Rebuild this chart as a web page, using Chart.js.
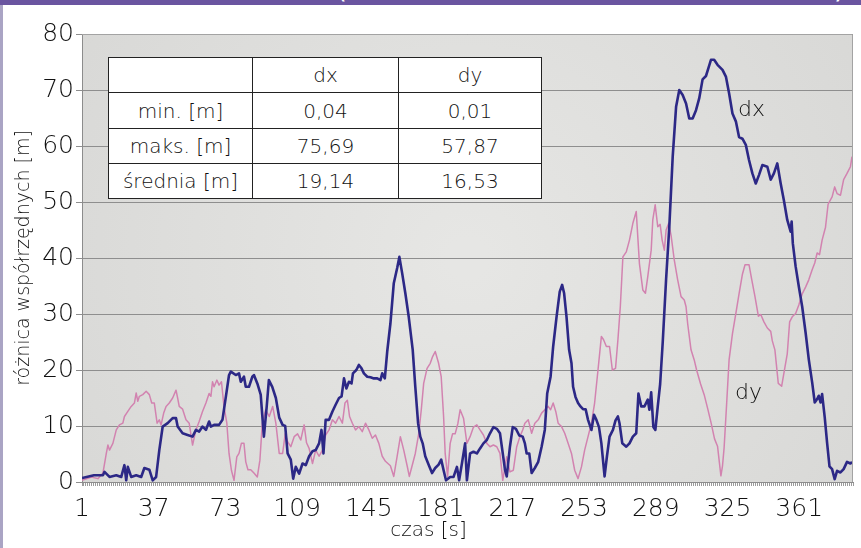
<!DOCTYPE html>
<html>
<head>
<meta charset="utf-8">
<script src="https://cdn.jsdelivr.net/npm/chart.js"></script>
<style>
  html, body { margin: 0; padding: 0; background: #fff; }
  #wrap { position: relative; width: 861px; height: 548px; overflow: hidden;
          font-family: 'DejaVu Sans', sans-serif; font-weight: 200; color: #111; }
  canvas { position: absolute; left: 0; top: 0; }
  #band { position: absolute; left: 0; top: 0; width: 861px; height: 5px; background: #6a55a0;
          overflow: hidden; color: #fff; }
  #band span { position: absolute; top: -25px; font-size: 28px; line-height: 28px; font-weight: 400; }
  #edge { position: absolute; left: 0; top: 5px; width: 3px; height: 543px; background: #aaa4c4; }
  table.stats { position: absolute; left: 108px; top: 57px; border-collapse: collapse; background: #fff;
                font-size: 20px; }
  table.stats td { border: 1px solid #222; padding: 0; text-align: center; line-height: 20px; }
  .tag { position: absolute; font-size: 22px; line-height: 22px; }
</style>
</head>
<body>
<div id="wrap">
  <canvas id="chart" width="861" height="548"></canvas>
  <div id="band"><span style="left:336px">(</span><span style="left:834px">)</span></div>
  <div id="edge"></div>
  <table class="stats">
    <tr style="height:35px"><td style="width:143px"></td><td style="width:145px">dx</td><td style="width:142px">dy</td></tr>
    <tr style="height:36px"><td>min. [m]</td><td>0,04</td><td>0,01</td></tr>
    <tr style="height:35px"><td>maks. [m]</td><td>75,69</td><td>57,87</td></tr>
    <tr style="height:35px"><td>średnia [m]</td><td>19,14</td><td>16,53</td></tr>
  </table>
  <div class="tag" style="left:738px; top:98px">dx</div>
  <div class="tag" style="left:735px; top:381px">dy</div>
</div>
<script>
// time [s] of each vertex and the coordinate difference [m]
const dxTime = [1, 7, 11.5, 12.3, 14.8, 18.2, 20.7, 22.3, 23.2, 24, 25.7, 28.2, 30.7, 32.3, 34.8, 36.5, 38.2, 39.8,
  41.5, 44, 46.5, 48.2, 49, 51.5, 54, 56.5, 58.2, 59.8, 61.5, 63.2, 64.8, 65.7, 67.3, 69.8, 71.5, 73.2, 74.8, 75.7,
  78.2, 79.8, 80.7, 82.3, 83.2, 84.8, 86.5, 87.3, 89, 90.7, 92.3, 93.7, 94.8, 96.5, 98.3, 100, 101.7, 103, 104.2,
  105.8, 107, 108.3, 110, 111.7, 113.3, 115, 116.7, 118.3, 120, 121.2, 122.2, 123.3, 125, 126.7, 128.3, 130, 131.3,
  132.5, 133.7, 135, 136.3, 137, 138.7, 140, 141.3, 142.5, 144.2, 145.8, 147.5, 149.2, 150.8, 151.7, 153, 154.2,
  155.8, 157.5, 159.2, 160.3, 161.7, 163.3, 165, 167, 168.3, 169.7, 170.8, 172, 173.3, 175, 176.7, 178.3, 180, 181.3,
  182.5, 183.7, 185.8, 187.5, 189.2, 190.3, 191.7, 193.3, 194.2, 195.8, 197.5, 199.2, 200.8, 202.5, 204.2, 205.8,
  207.5, 209.2, 210.8, 212.2, 213.3, 214.2, 215.8, 217.2, 218.8, 220.5, 222.2, 223.3, 224.2, 225.5, 226.7, 228.3,
  230, 231.7, 233.3, 234.5, 236.2, 237.5, 239.2, 240.8, 242, 243, 244.2, 245.5, 246.7, 247.5, 248.7, 250, 251.2,
  252.5, 253.8, 255, 256.7, 258, 259.2, 260.5, 261.7, 263.3, 264.5, 265.8, 267.5, 268.8, 270, 270.8, 272.2, 274.2,
  275.8, 277.5, 279.2, 280.3, 281.7, 283.3, 285, 285.8, 286.7, 287.8, 288.8, 290, 291.2, 292.5, 294.2, 295.8, 297.5,
  299.2, 300.8, 302.5, 304.2, 305.8, 307.5, 309.2, 310.8, 312.5, 314.2, 315.5, 316.7, 318.3, 320, 322.5, 324.2,
  325.8, 327.5, 329.2, 330.8, 332.5, 334.2, 335.8, 337.5, 339.2, 340.8, 342.5, 345, 346.7, 348.3, 350, 351.7, 353.3,
  355, 356.7, 357.2, 357.8, 359.2, 360.8, 362.5, 364.2, 365.8, 367.5, 368.8, 370, 370.8, 371.7, 372.5, 373.8, 375,
  376.2, 377.5, 378.8, 380, 381.7, 383.3, 385, 386.7, 387.5];
const dxValue = [0.7, 1.2, 1.2, 1.8, 0.9, 1.2, 0.9, 3.0, 0.3, 2.7, 0.9, 1.2, 0.9, 2.5, 2.2, 0.3, 0.9, 5.7,
  9.9, 10.5, 11.4, 11.4, 9.9, 8.7, 8.4, 8.1, 9.3, 9.0, 9.9, 9.3, 10.8, 9.9, 10.2, 10.2, 11.1, 15.2, 19.1, 19.7,
  19.1, 19.4, 17.9, 18.8, 17.0, 17.0, 18.8, 19.1, 17.6, 15.6, 8.1, 13.4, 18.2, 17.0, 15.0, 11.5, 10.2, 10.0, 5.1,
  4.0, 0.6, 2.7, 1.5, 3.3, 3.0, 4.6, 5.5, 5.7, 6.9, 9.3, 5.1, 11.1, 11.1, 12.6, 13.8, 15.0, 15.3,
  18.5, 16.7, 17.9, 17.6, 19.4, 20.0, 20.9, 20.3, 19.4, 18.8, 18.7, 18.5, 18.5, 18.2, 19.4, 18.5, 23.3,
  28.3, 35.5, 38.2, 40.2, 37.3, 33.7, 29.5, 23.6, 17.0, 10.5, 8.1, 6.9, 4.6, 3.1, 1.6, 2.5, 3.1, 4.0,
  2.1, 0.3, 0.9, 0.9, 2.7, 0.3, 3.3, 6.9, 0.3, 5.1, 5.4, 5.1, 6.0, 6.9, 7.5, 8.7,
  9.8, 9.5, 8.7, 5.1, 2.2, 1.0, 6.3, 9.8, 9.5, 8.3, 8.1, 6.9, 5.1, 5.1, 1.6, 2.5,
  3.6, 6.3, 9.3, 15.8, 18.8, 24.2, 29.5, 34.0, 35.2, 33.7, 29.5, 23.6, 21.2, 17.0, 15.2, 14.1, 13.5,
  13.0, 13.0, 11.1, 9.3, 12.0, 11.1, 9.8, 6.9, 1.0, 4.6, 8.1, 9.3, 11.0, 11.7, 10.5, 6.9, 6.3,
  6.9, 8.1, 8.7, 15.8, 13.5, 13.5, 14.7, 12.9, 16.0, 9.8, 9.3, 13.5, 17.5, 25.0, 36.3, 45.6, 58.1,
  67.0, 70.0, 69.1, 67.6, 64.9, 64.9, 66.4, 68.5, 71.9, 72.5, 74.0, 75.4, 75.4, 74.5, 73.6, 72.4,
  69.4, 65.8, 64.4, 61.6, 61.3, 60.2, 57.5, 55.1, 53.3, 54.8, 56.6, 56.3, 54.0, 55.1, 56.9, 53.3, 50.3,
  46.8, 44.7, 46.5, 42.6, 38.5, 34.9, 31.3, 26.7, 21.9, 17.8, 14.2, 14.8, 15.4, 14.2, 15.7, 11.6, 7.0,
  2.8, 2.3, 0.5, 2.0, 1.7, 2.3, 3.6, 3.3, 3.6];

const dyTime = [1, 5.7, 9, 11.5, 13.2, 14, 14.8, 16.5, 18.2, 19.8, 21.5, 22.3, 24, 25.7, 27.3, 28.2, 29, 29.8,
  31.5, 33.2, 34.8, 36, 37.3, 38.7, 39.8, 40.7, 42, 43.2, 44.8, 46.5, 48.2, 49, 49.8, 51.5, 53.2, 54.8, 56.5, 58.2,
  59.8, 61.5, 63.2, 64.8, 65.7, 66.5, 67.3, 68.7, 69.8, 71, 72.3, 73.7, 74.8, 76, 77.3, 78.7, 79.8, 81, 82.3, 83.2,
  84.3, 85.7, 87.3, 89, 90.3, 91.5, 93.2, 95, 96.7, 98.3, 100, 101.7, 103, 104.2, 105.8, 107.5, 109.2, 110.8, 112.5,
  113.7, 115, 116.7, 118.3, 120, 121.7, 123.3, 125, 126.7, 128.3, 130, 131.7, 133, 134.2, 135.3, 136.7, 138.3, 140,
  141.7, 143.3, 145, 146.7, 148.3, 150, 151.7, 153.3, 155.8, 157.5, 159.2, 160.8, 162.5, 164.2, 165.3, 166.7, 168.3,
  170, 171.3, 172.5, 174.2, 175.8, 177, 178.3, 180, 181.3, 182.5, 183.3, 184.5, 185.8, 187, 188.3, 189.7, 190.8,
  192.5, 194.2, 195.8, 197.5, 199.2, 200.8, 202.5, 204.2, 205.8, 207.5, 209.2, 210.8, 212.2, 213.3, 214.2, 215.8,
  217.5, 219.2, 220.8, 222.2, 223.3, 225, 226.7, 228.3, 230, 231.7, 233.3, 235, 236.2, 237.5, 238.8, 240, 241.7,
  243.3, 245, 246.7, 248.3, 250, 251.7, 253.3, 255, 256.7, 258.3, 260, 261.7, 262.8, 264.2, 265.8, 267.2, 268.8,
  270, 271.2, 272.5, 274.2, 275.8, 277.5, 279.2, 280.8, 282.5, 283.8, 285, 286.7, 287.5, 288.7, 290, 291.2, 292.2,
  293.3, 294.2, 295.5, 296.7, 298.3, 300, 301.7, 303.3, 304.2, 305, 306.7, 308.3, 309.5, 311.5, 313.3, 315, 316.8,
  318.5, 320, 321.7, 322.5, 323.3, 324.5, 325.8, 327.5, 329.2, 330.8, 332.5, 333.8, 335.8, 337.2, 338.8, 340.5,
  341.7, 343.3, 345, 346.7, 347.5, 348.8, 350.5, 352.2, 353.3, 355, 356.2, 357.5, 359.2, 360.8, 362.5, 364.2, 365.8,
  367.5, 368.8, 370, 371.2, 372.5, 374.2, 375.5, 377.5, 378.8, 380, 381.7, 383.3, 385, 386.7, 387.5];
const dyValue = [0.3, 0.9, 0.6, 1.6, 5.1, 6.6, 5.7, 6.9, 9.3, 10.2, 10.5, 11.7, 12.6, 13.5, 14.1, 15.9, 14.4, 15.3,
  15.6, 16.2, 15.6, 14.1, 14.1, 10.5, 11.1, 10.2, 12.3, 13.5, 14.1, 15.0, 16.4, 15.0, 13.5, 13.0, 11.1, 10.5, 6.6, 9.3,
  10.8, 12.6, 14.1, 15.8, 15.3, 17.9, 17.0, 18.2, 17.3, 17.9, 13.4, 10.5, 5.1, 2.1, 0.3, 4.5, 5.1, 6.9, 6.9, 3.6,
  2.2, 2.2, 1.6, 0.9, 3.9, 10.5, 12.9, 11.7, 13.5, 10.5, 5.1, 5.1, 8.6, 7.2, 6.3, 8.1, 8.6, 7.5, 10.2,
  7.0, 6.0, 3.3, 5.7, 4.6, 5.7, 8.4, 9.3, 11.1, 10.5, 11.7, 10.5, 14.1, 14.6, 11.7, 10.5, 9.3, 9.9,
  9.0, 10.5, 9.3, 7.8, 8.4, 6.9, 4.6, 3.7, 2.9, 1.0, 4.6, 8.1, 5.7, 2.9, 1.0, 2.9, 5.1,
  8.6, 12.9, 17.6, 20.3, 21.2, 22.4, 23.3, 21.2, 18.8, 11.7, 5.1, 1.0, 6.9, 8.6, 8.6, 10.5, 12.9,
  11.4, 6.9, 8.1, 9.8, 10.2, 9.3, 8.4, 6.9, 6.3, 6.6, 6.3, 5.1, 0.3, 2.7, 4.5, 1.8,
  2.1, 6.3, 8.1, 9.3, 10.5, 11.1, 8.7, 10.5, 11.1, 12.3, 12.9, 13.5, 12.9, 14.1, 12.6, 10.5, 9.9,
  8.7, 6.9, 5.1, 2.1, 0.6, 2.7, 5.7, 8.1, 10.5, 14.1, 20.0, 26.0, 25.4, 24.2, 24.2, 20.0, 20.3,
  25.4, 31.3, 40.2, 41.1, 43.2, 46.2, 48.3, 39.0, 34.3, 33.7, 36.7, 41.4, 46.8, 49.5, 45.6, 46.0, 43.2,
  41.4, 45.0, 46.2, 44.0, 39.6, 36.1, 33.1, 32.5, 31.3, 28.3, 23.6, 21.8, 20.0, 17.5, 15.6, 13.2, 10.5,
  7.7, 6.4, 1.1, 2.9, 6.1, 13.5, 21.8, 26.5, 30.1, 33.6, 37.1, 38.8, 38.8, 36.1, 33.1, 29.6,
  29.9, 28.6, 27.5, 26.9, 25.2, 23.6, 17.6, 17.1, 19.4, 22.9, 28.6, 29.5, 30.1, 31.6, 33.6, 34.8, 36.1,
  37.9, 39.1, 40.9, 40.6, 43.2, 45.5, 49.6, 50.9, 52.7, 51.5, 51.2, 54.0, 55.1, 56.3, 58.1];

const xTickLabels = [1, 37, 73, 109, 145, 181, 217, 253, 289, 325, 361];
const yTickLabels = [0, 10, 20, 30, 40, 50, 60, 70, 80];

Chart.defaults.font.family = "'DejaVu Sans', sans-serif";
Chart.defaults.font.weight = '200';
Chart.defaults.color = '#111';

// grey plot area behind the grid, with a thin frame
const plotBackground = {
  id: 'plotBackground',
  beforeDraw(chart) {
    const { ctx, chartArea: a } = chart;
    const cx = (a.left + a.right) / 2, cy = (a.top + a.bottom) / 2;
    const g = ctx.createRadialGradient(cx, cy, 20, cx, cy, a.width * 0.6);
    g.addColorStop(0, '#e6e6e4');
    g.addColorStop(1, '#d8d8d6');
    ctx.save();
    ctx.fillStyle = g;
    ctx.fillRect(a.left, a.top, a.width, a.height);
    ctx.restore();
  },
  afterDraw(chart) {
    const { ctx, chartArea: a } = chart;
    ctx.save();
    ctx.strokeStyle = '#a3a3a3';
    ctx.lineWidth = 1;
    ctx.beginPath();
    ctx.moveTo(a.left, a.top + 0.5);
    ctx.lineTo(a.right - 0.5, a.top + 0.5);
    ctx.lineTo(a.right - 0.5, a.bottom);
    ctx.stroke();
    ctx.restore();
  }
};

const ctx = document.getElementById('chart').getContext('2d');
new Chart(ctx, {
  type: 'line',
  data: {
    datasets: [{
      label: 'dx',
      data: dxTime.map((t, i) => ({ x: t, y: dxValue[i] })),
      borderColor: '#2c2886',
      borderWidth: 2.6,
      pointRadius: 0,
      tension: 0,
      borderJoinStyle: 'round'
    }, {
      label: 'dy',
      data: dyTime.map((t, i) => ({ x: t, y: dyValue[i] })),
      borderColor: '#d283b0',
      borderWidth: 1.5,
      pointRadius: 0,
      tension: 0,
      borderJoinStyle: 'round'
    }]
  },
  options: {
    responsive: false,
    animation: false,
    layout: { padding: { top: 34, right: 4, bottom: 0, left: 0 } },
    plugins: {
      legend: { display: false },
      tooltip: { enabled: false },
      title: {
        display: true,
        position: 'bottom',
        text: 'czas [s]',
        color: '#111',
        font: { size: 20, weight: '200' },
        padding: { top: 0, bottom: 5 }
      }
    },
    scales: {
      x: {
        type: 'linear',
        min: 1,
        max: 388,
        afterBuildTicks: axis => {
          // one small tick per second, labels only every 36 s
          const ticks = [];
          for (let v = 1; v <= 388; v++) ticks.push({ value: v });
          axis.ticks = ticks;
        },
        afterFit: axis => { axis.height = 37; },
        grid: { drawOnChartArea: false, tickLength: 4, color: '#9c9c9c' },
        border: { color: '#8c8c8c' },
        ticks: {
          autoSkip: false,
          maxRotation: 0,
          padding: 8,
          font: { size: 25 },
          callback: value => xTickLabels.includes(value) ? String(value) : ''
        }
      },
      y: {
        min: 0,
        max: 80,
        afterBuildTicks: axis => { axis.ticks = yTickLabels.map(v => ({ value: v })); },
        afterFit: axis => { axis.width = 82; },
        grid: { color: '#8e8e8e', tickLength: 6 },
        border: { color: '#8c8c8c' },
        ticks: { padding: 2, font: { size: 25 } },
        title: {
          display: true,
          text: 'różnica współrzędnych [m]',
          font: { size: 19, weight: '200' },
          padding: { top: 13, bottom: 0 }
        }
      }
    }
  },
  plugins: [plotBackground]
});
</script>
</body>
</html>
